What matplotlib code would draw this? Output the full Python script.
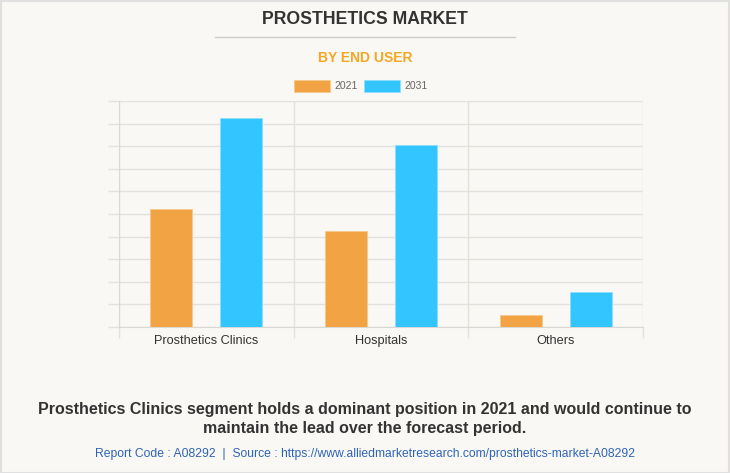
import matplotlib
matplotlib.use("Agg")
import matplotlib.pyplot as plt
from matplotlib.patches import Rectangle
from matplotlib.lines import Line2D
import numpy as np

categories = ["Prosthetics Clinics", "Hospitals", "Others"]
series_names = ["2021", "2031"]
values_2021 = [5.22, 4.25, 0.53]
values_2031 = [9.25, 8.05, 1.55]
colors = ["#F2A444", "#33C5FF"]

bg = "#F9F8F4"
plt.rcParams['font.family'] = ['Liberation Sans', 'DejaVu Sans']

fig = plt.figure(figsize=(7.3, 4.73), dpi=100, facecolor=bg)
W, H = 730, 473
def fx(x): return x / W
def fy(y): return 1 - y / H

ax = fig.add_axes([fx(119), fy(327), fx(643) - fx(119), fy(101) - fy(327)])
ax.set_facecolor(bg)
x = np.arange(len(categories))
bw = 0.24
ax.bar(x - 0.2, values_2021, bw, color=colors[0], zorder=3, edgecolor="#F7C98E", linewidth=0.6)
ax.bar(x + 0.2, values_2031, bw, color=colors[1], zorder=3, edgecolor="#8FDDFF", linewidth=0.6)
ax.set_xlim(-0.5, 2.5)
ax.set_ylim(0, 10)
ax.set_yticks(np.arange(0, 11, 1))
ax.set_yticklabels([])
ax.yaxis.grid(True, color="#E3E1DC", linewidth=1, zorder=0)
ax.set_xticks([-0.5, 0.5, 1.5, 2.5], minor=False)
ax.set_xticklabels([])
ax.xaxis.grid(True, color="#E3E1DC", linewidth=1, zorder=0)
ax.tick_params(axis='y', length=8, color="#E3E1DC", width=1)
ax.tick_params(axis='x', length=8, color="#E3E1DC", width=1)
for s in ["top", "right"]:
    ax.spines[s].set_visible(False)
ax.spines["left"].set_color("#DAD8D3")
ax.spines["bottom"].set_color("#DAD8D3")
for i, c in enumerate(categories):
    ax.text(i, -0.35, c, ha="center", va="top", fontsize=9.2, color="#333333",
            transform=ax.transData)

# Titles
fig.text(0.5, fy(20), "PROSTHETICS MARKET", ha="center", va="center",
         fontsize=12.7, fontweight="bold", color="#333333")
fig.add_artist(Line2D([fx(215), fx(515)], [fy(37), fy(37)], color="#CCCCCC", linewidth=1))
fig.text(0.5, fy(58), "BY END USER", ha="center", va="center",
         fontsize=10, fontweight="bold", color="#F5A623")

# Legend
fig.add_artist(Rectangle((fx(294), fy(92)), fx(330) - fx(294), fy(80) - fy(92),
                         facecolor=colors[0], edgecolor="#F7C98E", linewidth=0.6))
fig.text(fx(334), fy(86), series_names[0], ha="left", va="center", fontsize=7.5, color="#666666")
fig.add_artist(Rectangle((fx(364), fy(92)), fx(400) - fx(364), fy(80) - fy(92),
                         facecolor=colors[1], edgecolor="#8FDDFF", linewidth=0.6))
fig.text(fx(404), fy(86), series_names[1], ha="left", va="center", fontsize=7.5, color="#666666")

# Footer
fig.text(0.5, fy(409), "Prosthetics Clinics segment holds a dominant position in 2021 and would continue to",
         ha="center", va="center", fontsize=11.5, fontweight="bold", color="#333333")
fig.text(0.5, fy(428), "maintain the lead over the forecast period.",
         ha="center", va="center", fontsize=11.5, fontweight="bold", color="#333333")
fig.text(0.5, fy(454), "Report Code : A08292  |  Source : https://www.alliedmarketresearch.com/prosthetics-market-A08292",
         ha="center", va="center", fontsize=8.7, color="#2E63B8")

# Border
fig.add_artist(Rectangle((0.001, 0.001), 0.997, 0.997, transform=fig.transFigure,
                         fill=False, edgecolor="#E0E0E0", linewidth=1.5))

fig.savefig("out.png", dpi=100, facecolor=bg)
